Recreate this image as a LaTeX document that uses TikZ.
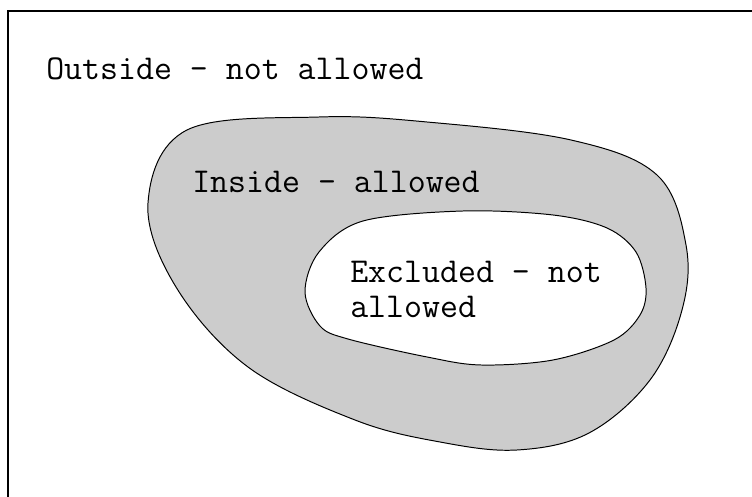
\documentclass[tikz,border=0pt]{standalone}
\usepackage{fontspec}
\definecolor{zonegray}{HTML}{CCCCCC}
\begin{document}
\begin{tikzpicture}[x=0.025cm,y=-0.025cm,
		zone/.style={draw=black,line width=0.7pt},
		zonelabel/.style={anchor=base west,inner sep=0pt,align=left,
			font=\ttfamily\fontsize{24.8}{24.9}\selectfont}]
		\useasboundingbox (0,0) rectangle (752,497);
		% frame
		\draw [black,line width=1pt] (8,497) -- (8,11) -- (752,11);
		% inside region
		\draw [zone,fill=zonegray] plot [smooth cycle,tension=0.6] coordinates {
			(319,117) (427,122) (571,140) (657,175) (686,245) (682,310)
			(650,380) (589,433) (517,450) (440,442) (355,420) (248,367)
			(176,287) (148,203) (187,130)};
		% excluded region
		\draw [zone,fill=white] plot [smooth cycle,tension=0.55] coordinates {
			(463,211) (553,215) (607,228) (636,252) (646,288) (640,315)
			(614,340) (553,360) (481,365) (427,357) (348,339) (320,326)
			(305,292) (319,252) (363,221)};
		\node [zonelabel] (outside) at (46,80) {Outside - not allowed};
		\node [zonelabel] (inside) at (192,193) {Inside - allowed};
		\node [zonelabel] (excluded) at (350,318) {Excluded - not\\allowed};
	\end{tikzpicture}
\end{document}
